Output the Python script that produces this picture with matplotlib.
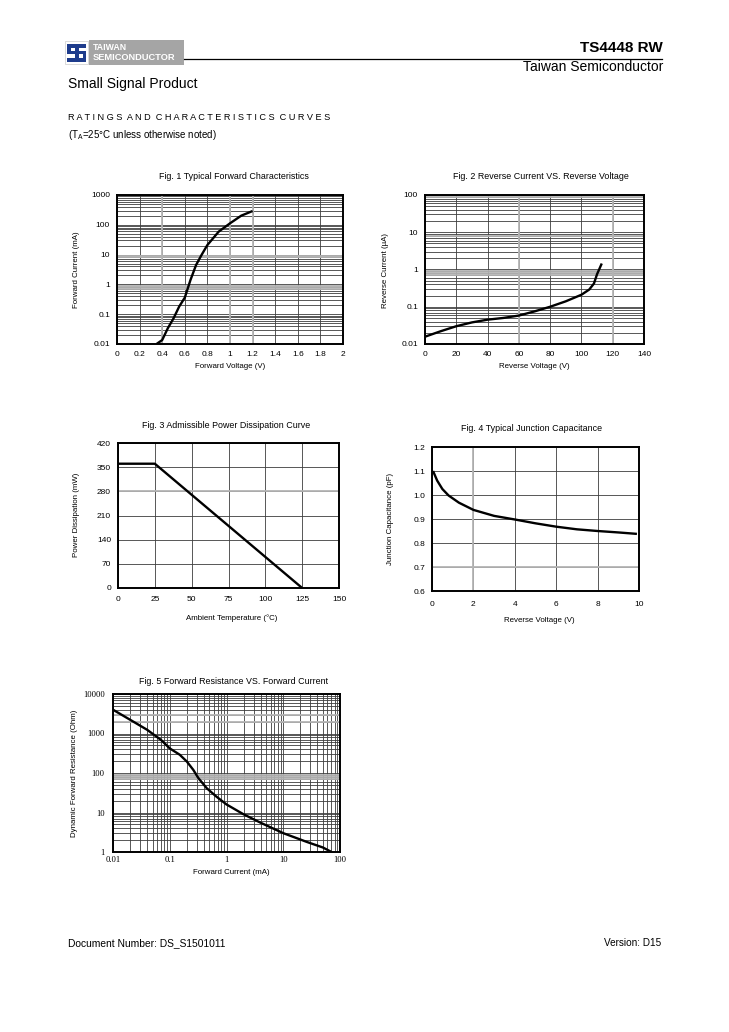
import matplotlib
matplotlib.use("Agg")
import matplotlib.pyplot as plt
from matplotlib.patches import Rectangle
from matplotlib.lines import Line2D
from matplotlib.ticker import NullFormatter, LogLocator

plt.rcParams["font.family"] = ["Liberation Sans", "DejaVu Sans"]

W, H = 729, 1032

# ---- data ----
fig1_vf = [0.35, 0.40, 0.45, 0.50, 0.55, 0.60, 0.65, 0.70, 0.75, 0.80, 0.90, 1.00, 1.10, 1.20]
fig1_if = [0.01, 0.0136, 0.034, 0.072, 0.18, 0.36, 1.4, 4.5, 10, 21, 59, 112, 203, 290]

fig2_vr = [0, 10, 20, 30, 40, 50, 60, 70, 80, 90, 100, 105, 108, 110, 113]
fig2_ir = [0.0157, 0.022, 0.030, 0.038, 0.045, 0.050, 0.058, 0.075, 0.10, 0.14, 0.21, 0.29, 0.42, 0.75, 1.45]

fig3_ta = [0, 25, 125]
fig3_pd = [360, 360, 0]

fig4_vr = [0.05, 0.25, 0.5, 0.8, 1.3, 2, 3, 4, 5, 6, 7, 8, 9, 9.9]
fig4_cj = [1.10, 1.06, 1.025, 0.998, 0.968, 0.938, 0.913, 0.898, 0.882, 0.868, 0.857, 0.850, 0.844, 0.838]

fig5_if = [0.01, 0.02, 0.04, 0.07, 0.1, 0.15, 0.2, 0.26, 0.32, 0.45, 0.67, 1, 2, 4, 10, 26, 50, 71]
fig5_rd = [4000, 2230, 1240, 690, 420, 290, 195, 120, 74, 41, 25, 16, 9, 5.5, 3.0, 1.8, 1.3, 1.0]

fig = plt.figure(figsize=(W / 100, H / 100), dpi=100, facecolor="white")


def fx(x):
    return x / W


def fy(y):
    return 1 - y / H


def text(x, y, s, **kw):
    kw.setdefault("va", "center")
    fig.text(fx(x), fy(y), s, **kw)


def make_ax(x0, y0, x1, y1):
    ax = fig.add_axes([fx(x0), fy(y1), (x1 - x0) / W, (y1 - y0) / H])
    for sp in ax.spines.values():
        sp.set_linewidth(1.4)
        sp.set_color("black")
    ax.tick_params(which="both", length=0, labelsize=6.0, pad=5)
    ax.set_axisbelow(True)
    return ax


GRID = dict(color="#3c3c3c", linewidth=0.6)
LIGHT = dict(color="#b4b4b4", linewidth=1.3, zorder=1.5)
CURVE = dict(color="black", linewidth=1.7, solid_capstyle="butt")
TITLE = 6.4
LABEL = 5.7

# ---- header ----
fig.add_artist(Rectangle((fx(65), fy(64)), 23 / W, 23 / H, transform=fig.transFigure,
                         facecolor="white", edgecolor="#cccccc", linewidth=0.5))
blue = "#1e3c8c"
for (x0, y0, w, h) in [(67, 44, 19, 3.5), (67, 44, 3.5, 10), (67, 51, 19, 3),
                       (82.5, 51, 3.5, 10), (67, 58, 19, 3.5), (75, 44, 3.5, 17)]:
    fig.add_artist(Rectangle((fx(x0), fy(y0 + h)), w / W, h / H, transform=fig.transFigure,
                             facecolor=blue, edgecolor="none"))
fig.add_artist(Rectangle((fx(89), fy(65)), 95 / W, 25 / H, transform=fig.transFigure,
                         facecolor="#a5a5a5", edgecolor="none"))
text(93, 47, "TAIWAN", fontsize=6.3, color="white", fontweight="bold")
text(93, 58, "SEMICONDUCTOR", fontsize=6.7, color="white", fontweight="bold")
fig.add_artist(Line2D([fx(184), fx(662)], [fy(59), fy(59)], transform=fig.transFigure,
                      color="black", linewidth=0.9))
text(663, 48, "TS4448 RW", fontsize=11, fontweight="bold", ha="right")
text(663, 67, "Taiwan Semiconductor", fontsize=10, ha="right")
text(68, 84, "Small Signal Product", fontsize=10)
text(68, 118, "R A T I N G S  A N D  C H A R A C T E R I S T I C S  C U R V E S", fontsize=6.6)
text(68, 134.5, r"(T$_\mathregular{A}$=25°C unless otherwise noted)", fontsize=7)

# ---- footer ----
text(68, 943, "Document Number: DS_S1501011", fontsize=7.4)
text(661, 943, "Version: D15", fontsize=7.2, ha="right")

# ---- Fig. 1 ----
ax1 = make_ax(117, 195, 343, 344)
ax1.set_yscale("log")
ax1.set_xlim(0, 2)
ax1.set_ylim(0.01, 1000)
ax1.set_xticks([i * 0.2 for i in range(11)])
ax1.set_xticklabels(["0", "0.2", "0.4", "0.6", "0.8", "1", "1.2", "1.4", "1.6", "1.8", "2"])
ax1.set_yticks([0.01, 0.1, 1, 10, 100, 1000])
ax1.set_yticklabels(["0.01", "0.1", "1", "10", "100", "1000"])
ax1.yaxis.set_minor_locator(LogLocator(base=10, subs=range(2, 10)))
ax1.yaxis.set_minor_formatter(NullFormatter())
ax1.grid(True, which="both", **GRID)
for v in [0.4, 1.0, 1.2]:
    ax1.axvline(v, **LIGHT)
for v in [0.9, 0.8, 0.7, 9, 8]:
    ax1.axhline(v, **LIGHT)
ax1.plot(fig1_vf, fig1_if, **CURVE)
text(234, 176.5, "Fig. 1 Typical Forward Characteristics", fontsize=TITLE, ha="center")
text(230, 367, "Forward Voltage (V)", fontsize=LABEL, ha="center")
text(76, 270, "Forward Current (mA)", fontsize=LABEL, ha="center", rotation=90)

# ---- Fig. 2 ----
ax2 = make_ax(425, 195, 644, 344)
ax2.set_yscale("log")
ax2.set_xlim(0, 140)
ax2.set_ylim(0.01, 100)
ax2.set_xticks(range(0, 141, 20))
ax2.set_yticks([0.01, 0.1, 1, 10, 100])
ax2.set_yticklabels(["0.01", "0.1", "1", "10", "100"])
ax2.yaxis.set_minor_locator(LogLocator(base=10, subs=range(2, 10)))
ax2.yaxis.set_minor_formatter(NullFormatter())
ax2.grid(True, which="both", **GRID)
for v in [60, 120]:
    ax2.axvline(v, **LIGHT)
for v in [90, 0.9, 0.8, 0.7, 8]:
    ax2.axhline(v, **LIGHT)
ax2.plot(fig2_vr, fig2_ir, **CURVE)
text(541, 176.5, "Fig. 2 Reverse Current VS. Reverse Voltage", fontsize=TITLE, ha="center")
text(534, 367, "Reverse Voltage (V)", fontsize=LABEL, ha="center")
text(386, 270, "Reverse Current (\u00b5A)", fontsize=LABEL, ha="center", rotation=90)

# ---- Fig. 3 ----
ax3 = make_ax(118, 443, 339, 588)
ax3.set_xlim(0, 150)
ax3.set_ylim(0, 420)
ax3.set_xticks(range(0, 151, 25))
ax3.set_yticks(range(0, 421, 70))
ax3.tick_params(axis="x", pad=6)
ax3.grid(True, **GRID)
ax3.axhline(280, **LIGHT)
ax3.plot(fig3_ta, fig3_pd, **CURVE)
text(226, 425, "Fig. 3 Admissible Power Dissipation Curve", fontsize=TITLE, ha="center")
text(232, 618, "Ambient Temperature (°C)", fontsize=LABEL, ha="center")
text(76, 515, "Power Dissipation (mW)", fontsize=LABEL, ha="center", rotation=90)

# ---- Fig. 4 ----
ax4 = make_ax(432, 447, 639, 591)
ax4.set_xlim(0, 10)
ax4.set_ylim(0.6, 1.2)
ax4.set_xticks(range(0, 11, 2))
ax4.set_yticks([0.6, 0.7, 0.8, 0.9, 1.0, 1.1, 1.2])
ax4.set_yticklabels(["0.6", "0.7", "0.8", "0.9", "1.0", "1.1", "1.2"])
ax4.tick_params(axis="x", pad=7)
ax4.grid(True, **GRID)
ax4.axvline(2, **LIGHT)
for v in [0.7, 1.2]:
    ax4.axhline(v, **LIGHT)
ax4.plot(fig4_vr, fig4_cj, **CURVE)
text(532, 428, "Fig. 4 Typical Junction Capacitance", fontsize=TITLE, ha="center")
text(539, 620, "Reverse Voltage (V)", fontsize=LABEL, ha="center")
text(391, 519, "Junction Capacitance (pF)", fontsize=LABEL, ha="center", rotation=90)

# ---- Fig. 5 ----
ax5 = make_ax(113, 694, 340, 852)
ax5.set_xscale("log")
ax5.set_yscale("log")
ax5.set_xlim(0.01, 100)
ax5.set_ylim(1, 10000)
ax5.set_xticks([0.01, 0.1, 1, 10, 100])
ax5.set_xticklabels(["0.01", "0.1", "1", "10", "100"])
ax5.set_yticks([1, 10, 100, 1000, 10000])
ax5.set_yticklabels(["1", "10", "100", "1000", "10000"])
for axis in (ax5.xaxis, ax5.yaxis):
    axis.set_minor_locator(LogLocator(base=10, subs=range(2, 10)))
    axis.set_minor_formatter(NullFormatter())
for lab in ax5.get_xticklabels() + ax5.get_yticklabels():
    lab.set_fontfamily("Liberation Serif")
    lab.set_fontsize(6.2)
ax5.tick_params(axis="x", pad=3)
ax5.tick_params(axis="y", pad=6)
ax5.grid(True, which="both", **GRID)
for v in [90, 80, 70, 3000, 2000]:
    ax5.axhline(v, **LIGHT)
ax5.plot(fig5_if, fig5_rd, **CURVE)
text(234, 682, "Fig. 5 Forward Resistance VS. Forward Current", fontsize=TITLE, ha="center")
text(231, 872, "Forward Current (mA)", fontsize=LABEL, ha="center")
text(75, 773, "Dynamic Forward Resistance (Ohm)", fontsize=LABEL, ha="center", rotation=90)

fig.savefig("out.png", dpi=100, facecolor="white")
